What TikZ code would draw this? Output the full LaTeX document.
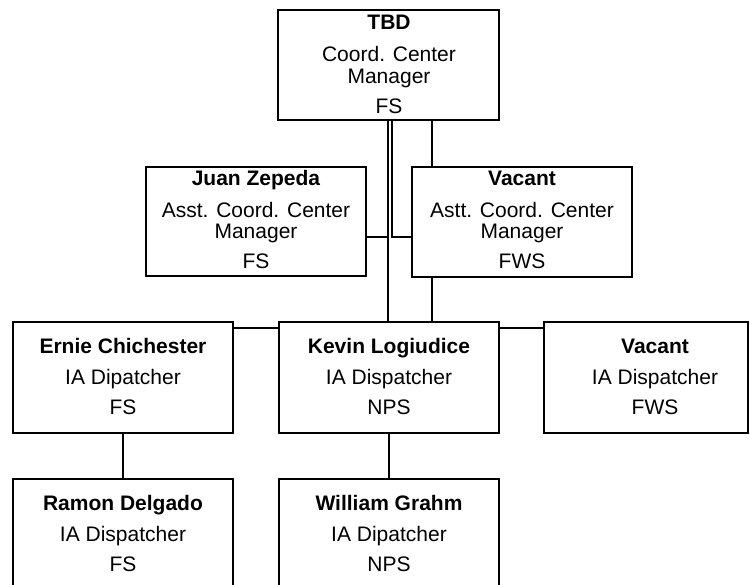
\documentclass[tikz,border=0pt]{standalone}
\usepackage{fontspec}
\setmainfont{Liberation Sans}
\tikzset{
  orgbox/.style={draw, line width=2.4pt, inner sep=0pt, outer sep=0pt, anchor=north west, fill=white},
  txt/.style={anchor=base, inner sep=0pt, font=\fontsize{21}{25}\selectfont},
  bold/.style={txt, font=\fontsize{21}{25}\selectfont\bfseries},
  conn/.style={line width=2pt}
}
\begin{document}
\begin{tikzpicture}[x=1pt,y=-1pt]
\path[clip] (0,0) rectangle (750,584);
\fill[white] (0,0) rectangle (750,584);
% boxes
\node[orgbox, minimum width=221pt, minimum height=110pt] (top) at (278,10) {};
\node[orgbox, minimum width=220pt, minimum height=109pt] (juan) at (146,167) {};
\node[orgbox, minimum width=220pt, minimum height=110pt] (vacA) at (412,167) {};
\node[orgbox, minimum width=220pt, minimum height=111pt] (ernie) at (13,322) {};
\node[orgbox, minimum width=220pt, minimum height=111pt] (kevin) at (279,322) {};
\node[orgbox, minimum width=204pt, minimum height=111pt] (vacI) at (544,322) {};
\node[orgbox, minimum width=220pt, minimum height=140pt] (ramon) at (13,479) {};
\node[orgbox, minimum width=220pt, minimum height=140pt] (william) at (279,479) {};
% texts
\node[bold] (top1) at (389,29) {TBD};
\node[txt] (top2) at (389,61) {Coord. Center};
\node[txt] (top3) at (389,83) {Manager};
\node[txt] (top4) at (389,113) {FS};
\node[bold] (juan1) at (256,185) {Juan Zepeda};
\node[txt] (juan2) at (256,217) {Asst. Coord. Center};
\node[txt] (juan3) at (256,238) {Manager};
\node[txt] (juan4) at (256,268) {FS};
\node[bold] (vacA1) at (522,185) {Vacant};
\node[txt] (vacA2) at (522,217) {Astt. Coord. Center};
\node[txt] (vacA3) at (522,238) {Manager};
\node[txt] (vacA4) at (522,268) {FWS};
\node[bold] (ernie1) at (123,353) {Ernie Chichester};
\node[txt] (ernie2) at (123,384) {IA Dipatcher};
\node[txt] (ernie3) at (123,414) {FS};
\node[bold] (kevin1) at (389,353) {Kevin Logiudice};
\node[txt] (kevin2) at (389,384) {IA Dispatcher};
\node[txt] (kevin3) at (389,414) {NPS};
\node[bold] (vacI1) at (655,353) {Vacant};
\node[txt] (vacI2) at (655,384) {IA Dispatcher};
\node[txt] (vacI3) at (655,414) {FWS};
\node[bold] (ramon1) at (123,510) {Ramon Delgado};
\node[txt] (ramon2) at (123,541) {IA Dispatcher};
\node[txt] (ramon3) at (123,571) {FS};
\node[bold] (william1) at (389,510) {William Grahm};
\node[txt] (william2) at (389,541) {IA Dipatcher};
\node[txt] (william3) at (389,571) {NPS};
% connectors
\coordinate (j1) at (388,237);
\coordinate (j2) at (392,237);
\coordinate (r) at (432,200);
\coordinate (h) at (256,328);
\begin{scope}[on background layer/.style={}]
\draw[conn] (j1 |- top.south) -- (j1 |- kevin.north);
\draw[conn] (juan.east |- j1) -- (j1);
\draw[conn] (j2 |- top.south) -- (j2) -- (vacA.west |- j2);
\draw[conn] (r |- top.south) -- (r |- vacA.north);
\draw[conn] (r |- vacA.south) -- (r |- kevin.north);
\draw[conn] (ernie.east |- h) -- (kevin.west |- h);
\draw[conn] (kevin.east |- h) -- (vacI.west |- h);
\draw[conn] (ernie.south) -- (ramon.north);
\draw[conn] (kevin.south) -- (william.north);
\end{scope}
\end{tikzpicture}
\end{document}
